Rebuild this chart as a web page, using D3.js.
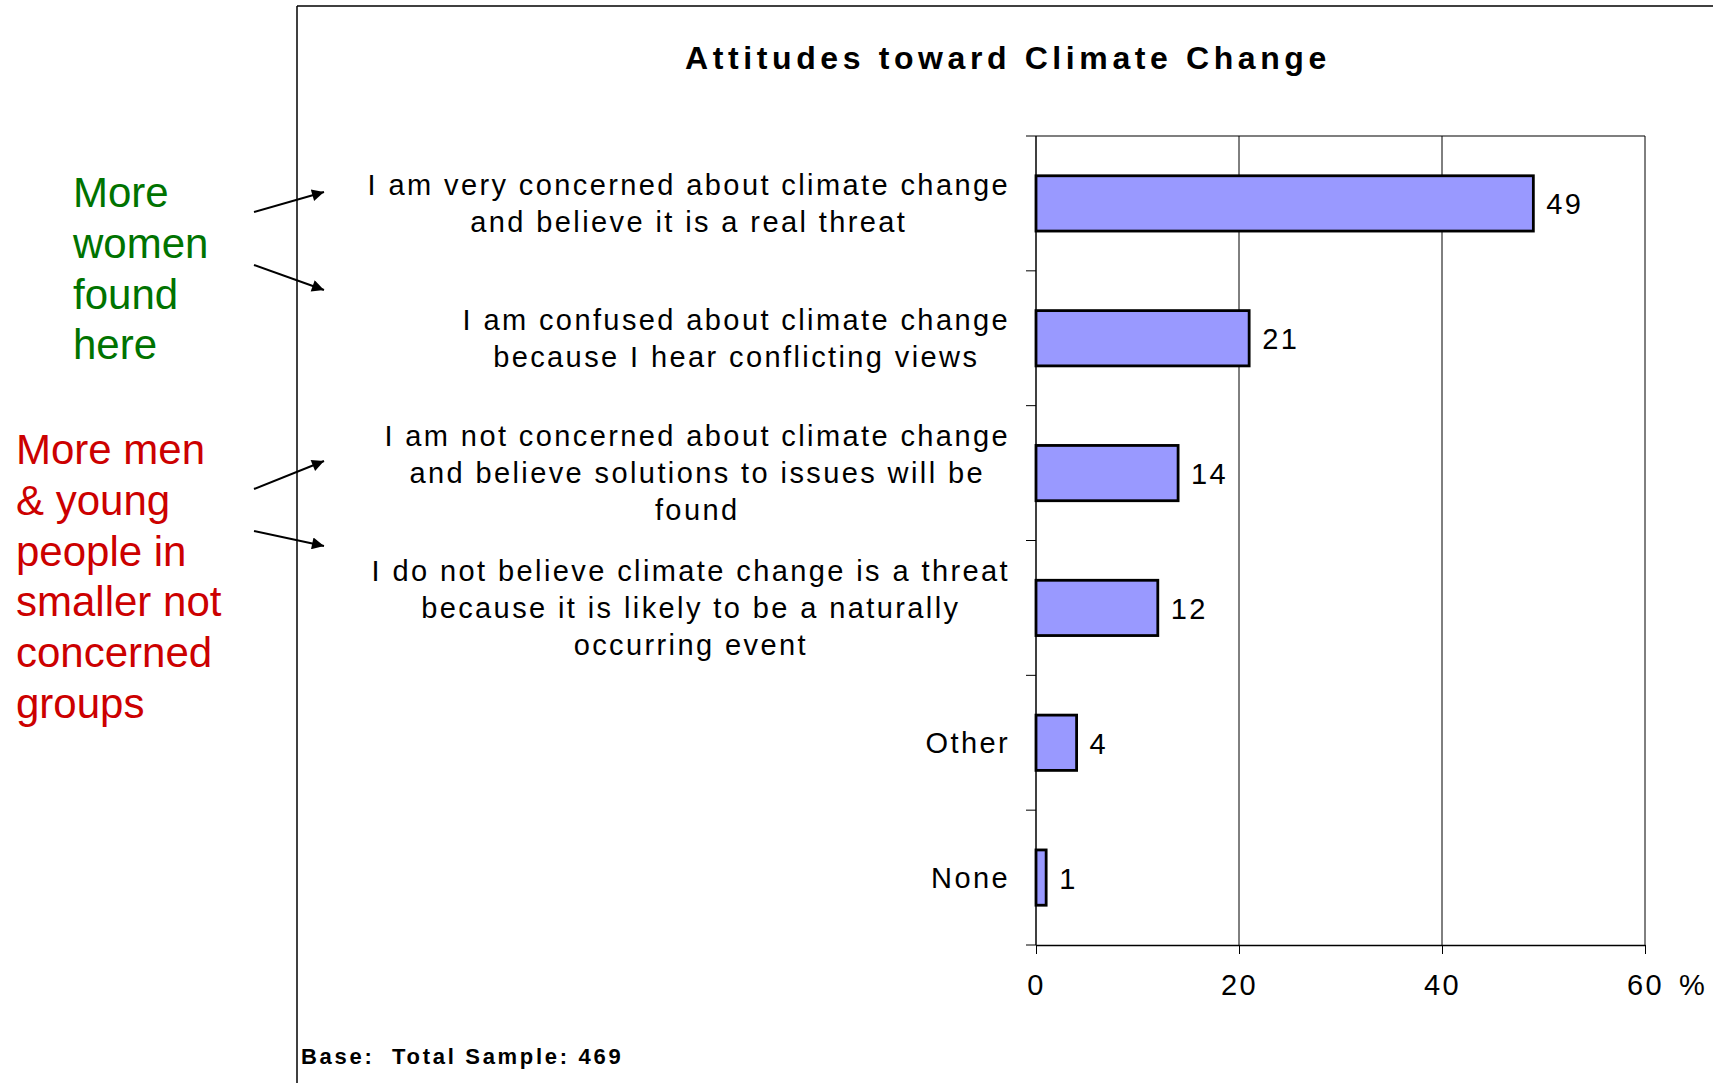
<!DOCTYPE html>
<html>
<head>
<meta charset="utf-8">
<script src="https://cdn.jsdelivr.net/npm/d3@7"></script>
<style>
  html, body { margin: 0; padding: 0; background: #fff; }
  svg { display: block; font-family: "Liberation Sans", Arial, sans-serif; }
  text { white-space: pre; }
</style>
</head>
<body>
<svg id="chart" width="1713" height="1083"></svg>
<script>
// Survey answers (each label split into its drawn lines) and their shares in %
const categories = [
  ["I am very concerned about climate change", "and believe it is a real threat"],
  ["I am confused about climate change", "because I hear conflicting views"],
  ["I am not concerned about climate change", "and believe solutions to issues will be", "found"],
  ["I do not believe climate change is a threat", "because it is likely to be a naturally", "occurring event"],
  ["Other"],
  ["None"]
];
const values = [49, 21, 14, 12, 4, 1];
const xTicks = [0, 20, 40, 60];
const titleText = "Attitudes toward Climate Change";
const baseText = "Base:  Total Sample: 469";
const womenNote = ["More", "women", "found", "here"];
const menNote = ["More men", "& young", "people in", "smaller not", "concerned", "groups"];

const svg = d3.select("#chart");
const W = 1713, H = 1083;

// Slide frame: left and top rules
svg.append("line").attr("x1", 297).attr("x2", 297).attr("y1", 6).attr("y2", H)
  .attr("stroke", "#000").attr("stroke-width", 1.5);
svg.append("line").attr("x1", 297).attr("x2", W).attr("y1", 6).attr("y2", 6)
  .attr("stroke", "#000").attr("stroke-width", 1.5);

// Plot area
const plot = { left: 1036, right: 1645, top: 136, bottom: 945 };
const x = d3.scaleLinear().domain([0, 60]).range([plot.left, plot.right]);
const y = d3.scaleBand().domain(d3.range(categories.length))
  .range([plot.top, plot.bottom]).paddingInner(0.59).paddingOuter(0.295);

// Title
svg.append("text").attr("x", 1008).attr("y", 69).attr("text-anchor", "middle")
  .attr("font-size", 32).attr("font-weight", "bold").attr("letter-spacing", 4.6)
  .text(titleText);

// Vertical gridlines at the x ticks
svg.append("g").selectAll("line").data(xTicks.filter(d => d > 0)).join("line")
  .attr("x1", d => x(d)).attr("x2", d => x(d))
  .attr("y1", plot.top).attr("y2", plot.bottom)
  .attr("stroke", "#000").attr("stroke-width", 1);

// Top border of the plot
svg.append("line").attr("x1", plot.left).attr("x2", plot.right)
  .attr("y1", plot.top).attr("y2", plot.top).attr("stroke", "#000").attr("stroke-width", 1.2);

// Bottom axis
const xAxis = d3.axisBottom(x).tickValues(xTicks).tickSize(9).tickSizeOuter(0).tickFormat("");
const gx = svg.append("g").attr("transform", `translate(0,${plot.bottom})`).call(xAxis);
gx.select(".domain").attr("stroke", "#000").attr("stroke-width", 1.5);
gx.selectAll(".tick line").attr("stroke", "#000").attr("stroke-width", 1);
gx.selectAll(".tick").append("text")
  .attr("y", 50).attr("fill", "#000").attr("font-size", 29).attr("letter-spacing", 2.4)
  .attr("text-anchor", "middle").attr("font-family", "Liberation Sans, Arial, sans-serif")
  .text(d => d);
svg.append("text").attr("x", x(60) + 34).attr("y", plot.bottom + 50)
  .attr("font-size", 29).text("%");

// Left axis with ticks at band boundaries
const boundaries = d3.range(categories.length + 1).map(i => plot.top + i * y.step());
svg.append("line").attr("x1", plot.left).attr("x2", plot.left)
  .attr("y1", plot.top).attr("y2", plot.bottom).attr("stroke", "#000").attr("stroke-width", 1.5);
svg.append("g").selectAll("line").data(boundaries).join("line")
  .attr("x1", plot.left - 10).attr("x2", plot.left)
  .attr("y1", d => d).attr("y2", d => d)
  .attr("stroke", "#000").attr("stroke-width", 1);

// Bars
svg.append("g").selectAll("rect").data(values).join("rect")
  .attr("x", x(0)).attr("y", (d, i) => y(i))
  .attr("width", d => x(d) - x(0)).attr("height", y.bandwidth())
  .attr("fill", "#9999ff").attr("stroke", "#000").attr("stroke-width", 2.8);

// Value labels
svg.append("g").selectAll("text").data(values).join("text")
  .attr("x", d => x(d) + 13)
  .attr("y", (d, i) => y(i) + y.bandwidth() / 2 + 11)
  .attr("font-size", 29).attr("letter-spacing", 2.4)
  .text(d => d);

// Category labels: centred lines, block right-aligned against the axis
const labelRight = 1010, lineH = 37;
categories.forEach((lines, i) => {
  const cy = y(i) + y.bandwidth() / 2;
  const g = svg.append("g");
  const texts = lines.map((ln, k) => g.append("text")
    .attr("y", cy + (k - (lines.length - 1) / 2) * lineH + 10)
    .attr("text-anchor", "middle")
    .attr("font-size", 29).attr("letter-spacing", 2.4)
    .text(ln));
  const maxW = d3.max(texts, t => t.node().getComputedTextLength());
  texts.forEach(t => t.attr("x", labelRight - maxW / 2));
});

// Base note
svg.append("text").attr("x", 301).attr("y", 1064)
  .attr("font-size", 22).attr("font-weight", "bold").attr("letter-spacing", 2.7)
  .text(baseText);

// Side notes
svg.append("g").selectAll("text").data(womenNote).join("text")
  .attr("x", 73).attr("y", (d, i) => 207 + i * 50.8)
  .attr("font-size", 42).attr("fill", "#007300").text(d => d);
svg.append("g").selectAll("text").data(menNote).join("text")
  .attr("x", 16).attr("y", (d, i) => 464 + i * 50.8)
  .attr("font-size", 42).attr("fill", "#cc0000").text(d => d);

// Arrows from the notes toward the answers
svg.append("defs").append("marker")
  .attr("id", "head").attr("viewBox", "0 0 10 10").attr("refX", 10).attr("refY", 5)
  .attr("markerWidth", 18).attr("markerHeight", 12).attr("markerUnits", "userSpaceOnUse")
  .attr("orient", "auto")
  .append("path").attr("d", "M0,0 L10,5 L0,10 Z").attr("fill", "#000");
const arrows = [
  [254, 212, 324, 192],
  [254, 265, 324, 290],
  [254, 489, 324, 461],
  [254, 531, 324, 546]
];
svg.append("g").selectAll("line").data(arrows).join("line")
  .attr("x1", d => d[0]).attr("y1", d => d[1]).attr("x2", d => d[2]).attr("y2", d => d[3])
  .attr("stroke", "#000").attr("stroke-width", 2).attr("marker-end", "url(#head)");
</script>
</body>
</html>
